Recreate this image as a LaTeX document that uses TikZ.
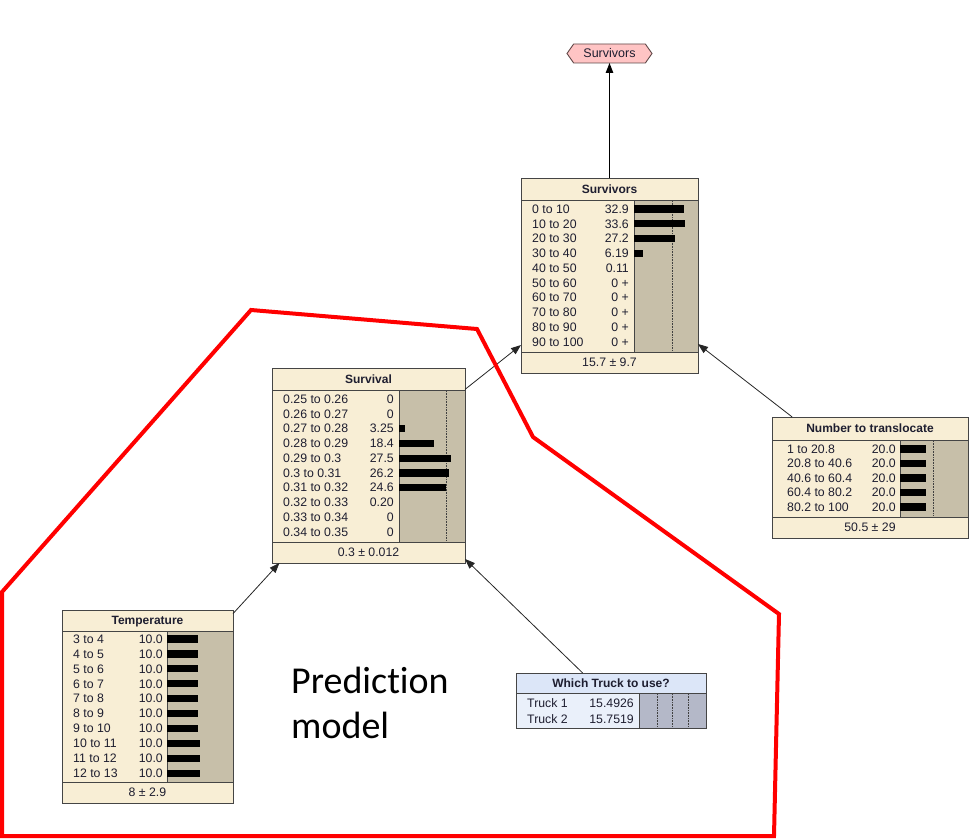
\documentclass[tikz,border=0pt]{standalone}
\usepackage{fontspec}
\setmainfont{Liberation Sans}
\newfontfamily\calib[Ligatures={NoCommon,NoRare,NoDiscretionary}]{Carlito}
\usetikzlibrary{arrows.meta,shapes.symbols}
\definecolor{cream}{HTML}{F8EED5}
\definecolor{tan}{HTML}{C7BFA9}
\definecolor{edge}{HTML}{454545}
\definecolor{txt}{HTML}{1E1E30}
\definecolor{bluetitle}{HTML}{DCE6F8}
\definecolor{bluebody}{HTML}{EAF0FA}
\definecolor{bluebar}{HTML}{B4B8C8}
\definecolor{pinkfill}{HTML}{FFC4C4}
\definecolor{pinkedge}{HTML}{604848}
\tikzset{
  box/.style={draw=edge, line width=1pt, fill=cream, inner sep=0pt, outer sep=0pt, anchor=north west},
  bararea/.style={fill=tan},
  sepline/.style={draw=edge, line width=1pt},
  dotline/.style={draw=black!75, line width=0.6pt, densely dotted},
  lbl/.style={anchor=west, inner sep=0pt, text height=8.6pt, text depth=0pt, font=\fontsize{12.3}{12.3}\selectfont, text=txt},
  num/.style={anchor=east, inner sep=0pt, text height=8.6pt, text depth=0pt, font=\fontsize{12.3}{12.3}\selectfont, text=txt},
  ttl/.style={inner sep=0pt, text height=8.6pt, text depth=0pt, font=\fontsize{12}{12}\selectfont\bfseries, text=txt},
  foot/.style={inner sep=0pt, text height=8.6pt, text depth=0pt, font=\fontsize{12.3}{12.3}\selectfont, text=txt},
  arr/.style={-{Triangle[length=10pt,width=7.5pt]}, line width=0.8pt, draw=black!85},
  region/.style={draw=red, line width=4pt},
}
% #1 name, #2 x1, #3 y1, #4 x2, #5 y2, #6 title bottom, #7 body bottom, #8 bar x
\newcommand{\netframe}[8]{%
  \node[box, minimum width=#4pt-#2pt, minimum height=#5pt-#3pt] (#1) at (#2,#3) {};
  \fill[bararea] (#8,#6) rectangle (#4,#7);
  \draw[sepline] (#2,#6) -- (#4,#6);
  \draw[sepline] (#2,#7) -- (#4,#7);
  \draw[sepline] (#8,#6) -- (#8,#7);
}
% #1 label x, #2 number x, #3 bar x, #4 first row y, #5 row step, #6 list
\newcommand{\netrows}[6]{%
  \foreach \lab/\val/\len [count=\i from 0] in {#6}{%
    \pgfmathsetmacro\yy{#4+\i*#5}
    \node[lbl] at (#1,\yy) {\lab};
    \node[num] at (#2,\yy) {\val};
    \ifdim\len pt>0pt \fill[black] (#3,\yy-3.6) rectangle ++(\len,7.2);\fi
  }}
\begin{document}
\begin{tikzpicture}[x=1pt,y=-1pt]
\useasboundingbox[fill=white] (0,0) rectangle (980,840);

% Survivors (utility/hexagon)
\node[signal, signal to=west and east, signal pointer angle=110, draw=pinkedge, fill=pinkfill,
      line width=0.9pt, minimum width=85pt, minimum height=19pt, inner sep=0pt, outer sep=0pt,
      font=\fontsize{12.5}{12.5}\selectfont, text=txt] (H) at (609.5,53.5) {Survivors};

% Survivors table
\netframe{S}{521}{178}{698}{373}{200}{352}{634}
\draw[dotline] (672,201) -- (672,351);
\node[ttl] at (609.5,189) {Survivors};
\netrows{532}{629}{634}{209}{14.78}{0 to 10/32.9/50, 10 to 20/33.6/51, 20 to 30/27.2/41.3, 30 to 40/6.19/9.4, 40 to 50/0.11/0, 50 to 60/0 +/0, 60 to 70/0 +/0, 70 to 80/0 +/0, 80 to 90/0 +/0, 90 to 100/0 +/0}
\node[foot] at (609.5,362.5) {15.7 ± 9.7};
\draw[draw=edge, line width=1pt] (S.north west) rectangle (S.south east);

% Survival table
\netframe{V}{272}{368}{465}{563}{390}{542}{399}
\draw[dotline] (446,391) -- (446,541);
\node[ttl] at (368.5,379) {Survival};
\netrows{283}{394}{399}{399}{14.78}{0.25 to 0.26/0/0, 0.26 to 0.27/0/0, 0.27 to 0.28/3.25/6.1, 0.28 to 0.29/18.4/34.8, 0.29 to 0.3/27.5/52, 0.3 to 0.31/26.2/49.5, 0.31 to 0.32/24.6/46.5, 0.32 to 0.33/0.20/0, 0.33 to 0.34/0/0, 0.34 to 0.35/0/0}
\node[foot] at (368.5,552.5) {0.3 ± 0.012};
\draw[draw=edge, line width=1pt] (V.north west) rectangle (V.south east);

% Temperature table
\netframe{T}{62}{610}{233}{803}{631}{782}{167}
\node[ttl] at (147.5,620.5) {Temperature};
\netrows{73}{163}{167}{639}{14.9}{3 to 4/10.0/31, 4 to 5/10.0/31, 5 to 6/10.0/31, 6 to 7/10.0/31, 7 to 8/10.0/31, 8 to 9/10.0/31, 9 to 10/10.0/31, 10 to 11/10.0/33, 11 to 12/10.0/33, 12 to 13/10.0/33}
\node[foot] at (147.5,792.5) {8 ± 2.9};
\draw[draw=edge, line width=1pt] (T.north west) rectangle (T.south east);

% Number to translocate table
\netframe{N}{772}{417}{968}{538}{440}{517}{900}
\draw[dotline] (933,441) -- (933,516);
\node[ttl] at (870,428.5) {Number to translocate};
\netrows{787}{896}{900}{449}{14.5}{1 to 20.8/20.0/26, 20.8 to 40.6/20.0/26, 40.6 to 60.4/20.0/26, 60.4 to 80.2/20.0/26, 80.2 to 100/20.0/26}
\node[foot] at (870,527.5) {50.5 ± 29};
\draw[draw=edge, line width=1pt] (N.north west) rectangle (N.south east);

% Which Truck to use? (decision)
\node[box, fill=bluebody, minimum width=190pt, minimum height=55pt] (W) at (516,673) {};
\fill[bluetitle] (516,673) rectangle (706,693);
\fill[bluebar] (639,693) rectangle (706,728);
\draw[sepline] (516,693) -- (706,693);
\draw[sepline] (639,693) -- (639,728);
\foreach \dx in {657,672,688} \draw[dotline] (\dx,694) -- (\dx,727);
\node[ttl] at (611,683) {Which Truck to use?};
\netrows{527}{634}{639}{703}{16}{Truck 1/15.4926/0, Truck 2/15.7519/0}
\draw[draw=edge, line width=1pt] (W.north west) rectangle (W.south east);

% connectors
\draw[arr, line width=1.2pt, draw=black] (S) -- (H);
\draw[arr] (V) -- (S);
\draw[arr] (N) -- (S);
\draw[arr] (T) -- (V);
\draw[arr] (W) -- (V);

% prediction model region
\draw[region] (2,592) -- (251,310) -- (477,329) -- (533,437) -- (779,614) -- (774,836) -- (2,836) -- cycle;
\node[anchor=base west, inner sep=0pt, align=left, font=\calib\fontsize{38}{45}\selectfont] (P) at (291,738) {Prediction\\model};
\end{tikzpicture}
\end{document}
